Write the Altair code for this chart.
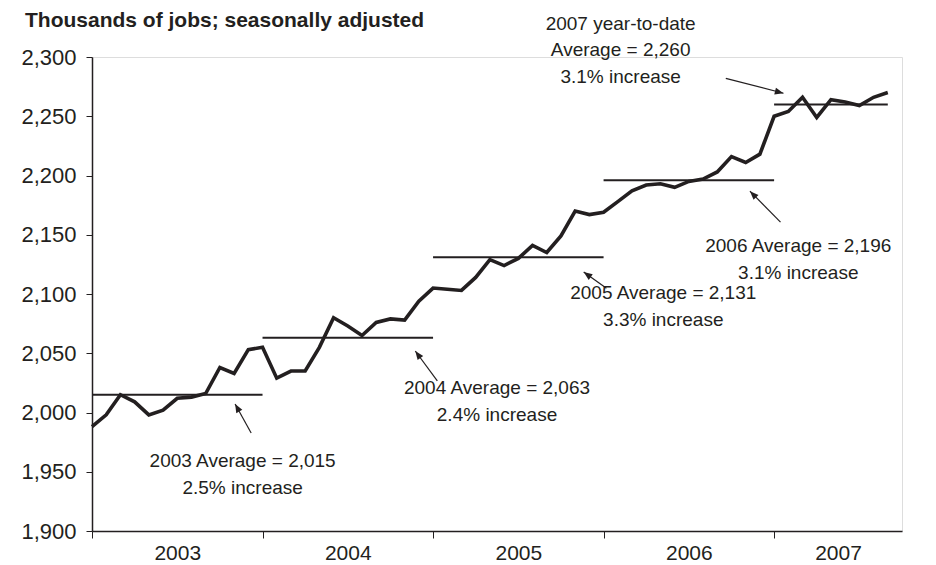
import math
import altair as alt
import pandas as pd

# Monthly nonfarm employment, thousands of jobs (seasonally adjusted)
years = [2003, 2004, 2005, 2006, 2007]
jobs_2003 = [1988, 1998, 2015, 2009, 1998, 2002, 2012, 2013, 2016, 2038, 2033, 2053]
jobs_2004 = [2055, 2029, 2035, 2035, 2055, 2080, 2073, 2065, 2076, 2079, 2078, 2094]
jobs_2005 = [2105, 2104, 2103, 2114, 2129, 2124, 2130, 2141, 2135, 2149, 2170, 2167]
jobs_2006 = [2169, 2178, 2187, 2192, 2193, 2190, 2195, 2197, 2203, 2216, 2211, 2218]
jobs_2007 = [2250, 2254, 2266, 2249, 2264, 2262, 2259, 2266, 2270]

# Annual averages and the notes attached to them
avg_values = [2015, 2063, 2131, 2196, 2260]
avg_start = [0, 12, 24, 36, 48]
avg_end = [12, 24, 36, 48, 56]
note_lines = [
    ["2003 Average = 2,015", "2.5% increase"],
    ["2004 Average = 2,063", "2.4% increase"],
    ["2005 Average = 2,131", "3.3% increase"],
    ["2006 Average = 2,196", "3.1% increase"],
    ["2007 year-to-date", "Average = 2,260", "3.1% increase"],
]
# anchor of each note's first line (month index, jobs) and line step in jobs
note_x = [10.6, 28.5, 40.2, 49.7, 37.2]
note_y = [1959.0, 2020.8, 2100.9, 2140.5, 2328.0]
note_step = 22.5
# arrows: tail -> head in (month index, jobs)
arrow_x1 = [11.2, 24.3, 36.2, 48.45, 44.6]
arrow_y1 = [1982.7, 2026.6, 2104.8, 2160.6, 2282.0]
arrow_x2 = [10.07, 22.75, 34.6, 46.3, 48.66]
arrow_y2 = [2007.2, 2051.9, 2118.5, 2186.8, 2269.4]

Y_MIN, Y_MAX = 1900, 2300
X_MAX = 57
W, H = 810, 474
INK = "#231f20"
FONT = "Liberation Sans"

jobs = jobs_2003 + jobs_2004 + jobs_2005 + jobs_2006 + jobs_2007
series = pd.DataFrame({"month": list(range(len(jobs))), "jobs": jobs})

averages = pd.DataFrame({"x": avg_start, "x2": avg_end, "y": avg_values})

note_rows = []
for i, lines in enumerate(note_lines):
    for j, line in enumerate(lines):
        note_rows.append({"x": note_x[i], "y": note_y[i] - j * note_step, "text": line})
notes = pd.DataFrame(note_rows)

# arrowhead rotation from the on-screen direction of each arrow
px_x = W / X_MAX
px_y = H / (Y_MAX - Y_MIN)
angles = []
for x1, y1, x2, y2 in zip(arrow_x1, arrow_y1, arrow_x2, arrow_y2):
    dx = (x2 - x1) * px_x
    dy = -(y2 - y1) * px_y
    angles.append(math.degrees(math.atan2(dx, -dy)) % 360)
arrows = pd.DataFrame({"x": arrow_x1, "y": arrow_y1, "x2": arrow_x2, "y2": arrow_y2, "angle": angles})

x_ticks = [0, 6, 12, 18, 24, 30, 36, 42, 48, 52.5]
x_scale = alt.Scale(domain=[0, X_MAX], nice=False, zero=False)
y_scale = alt.Scale(domain=[Y_MIN, Y_MAX], nice=False, zero=False)

x_axis = alt.Axis(
    values=x_ticks,
    labelExpr="datum.value % 12 == 0 ? '' : '' + (2003 + floor(datum.value / 12))",
    tickOpacity={"condition": {"test": "datum.value % 12 != 0", "value": 0}, "value": 1},
    grid=False, title=None, labelOverlap=False, labelFlush=False,
    labelFontSize=21, labelFont=FONT, labelColor=INK, labelPadding=4,
    tickSize=7, tickColor=INK, domainColor=INK, domainWidth=1.5,
)
y_axis = alt.Axis(
    values=list(range(Y_MIN, Y_MAX + 1, 50)), format=",d",
    grid=False, title=None,
    labelFontSize=22, labelFont=FONT, labelColor=INK, labelPadding=10,
    tickSize=6, tickColor=INK, domainColor=INK, domainWidth=1.5,
)

line = alt.Chart(series).mark_line(color=INK, strokeWidth=3.6, strokeJoin="miter").encode(
    x=alt.X("month:Q", scale=x_scale, axis=x_axis),
    y=alt.Y("jobs:Q", scale=y_scale, axis=y_axis),
)

avg_rules = alt.Chart(averages).mark_rule(color=INK, strokeWidth=2).encode(
    x=alt.X("x:Q", scale=x_scale), x2="x2:Q",
    y=alt.Y("y:Q", scale=y_scale),
)

arrow_lines = alt.Chart(arrows).mark_rule(color=INK, strokeWidth=1.2).encode(
    x=alt.X("x:Q", scale=x_scale), x2="x2:Q",
    y=alt.Y("y:Q", scale=y_scale), y2="y2:Q",
)

arrow_heads = alt.Chart(arrows).mark_point(
    shape="M0,0L-0.4,1L0.4,1Z", filled=True, color=INK, opacity=1, size=300,
).encode(
    x=alt.X("x2:Q", scale=x_scale),
    y=alt.Y("y2:Q", scale=y_scale),
    angle=alt.Angle("angle:Q", scale=None),
)

note_text = alt.Chart(notes).mark_text(
    font=FONT, fontSize=19, color=INK, align="center", baseline="middle",
).encode(
    x=alt.X("x:Q", scale=x_scale),
    y=alt.Y("y:Q", scale=y_scale),
    text="text:N",
)

chart = alt.layer(avg_rules, arrow_lines, arrow_heads, line, note_text).properties(
    width=W, height=H,
    title=alt.TitleParams(
        "Thousands of jobs; seasonally adjusted",
        anchor="start", frame="group", font=FONT, fontSize=21, fontWeight="bold",
        color=INK, dx=-67, dy=32, offset=16,
    ),
    autosize=alt.AutoSizeParams(type="none"),
    padding={"left": 92, "top": 57, "right": 34, "bottom": 34},
).configure_view(stroke=None).configure(background="white")

chart.save("out.html", embed_options={"renderer": "svg", "actions": False})
